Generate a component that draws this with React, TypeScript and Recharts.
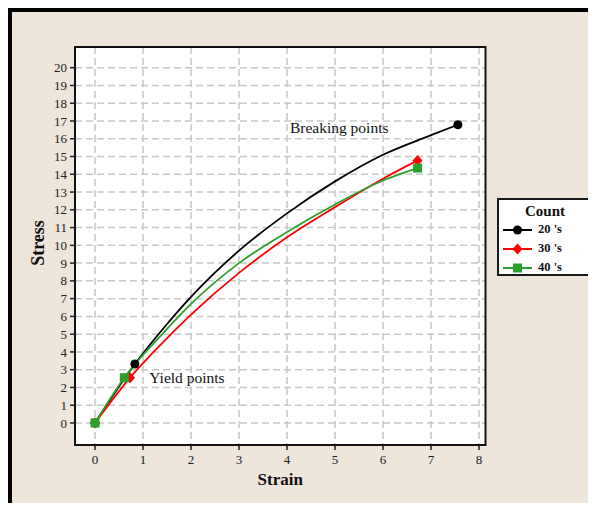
import React from 'react';
import {
  LineChart,
  Line,
  XAxis,
  YAxis,
  CartesianGrid,
  ReferenceArea,
  ReferenceDot,
  Legend,
  Label,
} from 'recharts';

const FONT = '"Liberation Serif", "DejaVu Serif", serif';

// ---- data ----
const seriesNames = ["20 's", "30 's", "40 's"];
const seriesColors = ['#000000', '#ff0000', '#2ca02c'];

const strain20 = [0, 0.83, 1.4, 2, 3, 4, 5, 6, 7, 7.56];
const stress20 = [0, 3.32, 5.25, 7.1, 9.7, 11.8, 13.6, 15.1, 16.2, 16.79];
const marks20 = [0, 1, 9];

const strain30 = [0, 0.73, 1.4, 2, 3, 4, 5, 6, 6.72];
const stress30 = [0, 2.55, 4.5, 6.1, 8.45, 10.45, 12.15, 13.75, 14.78];
const marks30 = [0, 1, 8];

const strain40 = [0, 0.61, 1.4, 2, 3, 4, 5, 6, 6.72];
const stress40 = [0, 2.55, 5.0, 6.7, 9.0, 10.75, 12.3, 13.65, 14.35];
const marks40 = [0, 1, 8];

const xTicks = [0, 1, 2, 3, 4, 5, 6, 7, 8];
const yTicks = [0, 1, 2, 3, 4, 5, 6, 7, 8, 9, 10, 11, 12, 13, 14, 15, 16, 17, 18, 19, 20];
const xDomain = [-0.417, 8.135];
const yDomain = [-1.24, 21.165];

const annotations = [
  { x: 1.13, y: 2.25, text: 'Yield points' },
  { x: 4.06, y: 16.34, text: 'Breaking points' },
];

const build = (xs: number[], ys: number[], marks: number[]) =>
  xs.map((x, i) => ({ x, y: ys[i], m: marks.includes(i) }));

const data20 = build(strain20, stress20, marks20);
const data30 = build(strain30, stress30, marks30);
const data40 = build(strain40, stress40, marks40);

const Marker = ({ kind, cx, cy, color }: any) => {
  if (kind === 'circle') return <circle cx={cx} cy={cy} r={4.5} fill={color} />;
  if (kind === 'diamond')
    return (
      <polygon
        points={`${cx},${cy - 5.5} ${cx + 5},${cy} ${cx},${cy + 5.5} ${cx - 5},${cy}`}
        fill={color}
      />
    );
  return <rect x={cx - 4.5} y={cy - 4.5} width={9} height={9} fill={color} />;
};

const makeDot = (kind: string, color: string) => (props: any) => {
  const { cx, cy, payload, index } = props;
  if (!payload || !payload.m) return <g key={`d-${kind}-${index}`} />;
  return (
    <g key={`d-${kind}-${index}`}>
      <Marker kind={kind} cx={cx} cy={cy} color={color} />
    </g>
  );
};

const kinds = ['circle', 'diamond', 'square'];

const LegendBox = () => (
  <div
    style={{
      width: 96,
      height: 78,
      boxSizing: 'border-box',
      border: '2px solid #1a1a1a',
      background: '#ffffff',
      fontFamily: FONT,
      paddingTop: 3,
    }}
  >
    <div style={{ textAlign: 'center', fontSize: 15, fontWeight: 'bold', lineHeight: '17px', color: '#111' }}>
      Count
    </div>
    {seriesNames.map((name, i) => (
      <div key={name} style={{ display: 'flex', alignItems: 'center', height: 19 }}>
        <svg width={34} height={14} style={{ marginLeft: 3 }}>
          <line x1={1} y1={7} x2={30} y2={7} stroke={seriesColors[i]} strokeWidth={2} />
          <Marker kind={kinds[i]} cx={15.5} cy={7} color={seriesColors[i]} />
        </svg>
        <span style={{ fontSize: 12.5, fontWeight: 'bold', marginLeft: 2, color: '#111' }}>{name}</span>
      </div>
    ))}
  </div>
);

export default function App() {
  return (
    <div
      style={{
        width: 588,
        height: 503,
        marginBottom: -8,
        boxSizing: 'border-box',
        borderTop: '4px solid #000',
        borderLeft: '4px solid #000',
        background: '#eee5db',
        position: 'relative',
      }}
    >
      <LineChart
        width={584}
        height={499}
        margin={{ top: 35, right: 110.5, left: 0, bottom: 0 }}
        style={{ fontFamily: FONT }}
      >
        <CartesianGrid
          stroke="#c8c8c8"
          strokeWidth={1.5}
          strokeDasharray="7 4"
          fill="#ffffff"
          horizontalValues={yTicks}
          verticalValues={xTicks}
        />
        <XAxis
          dataKey="x"
          type="number"
          domain={xDomain}
          ticks={xTicks}
          interval={0}
          allowDataOverflow
          height={66}
          tickSize={5}
          tickMargin={5}
          axisLine={{ stroke: '#111', strokeWidth: 2 }}
          tickLine={{ stroke: '#222', strokeWidth: 1.5 }}
          tick={{ fill: '#222', fontSize: 13, fontFamily: FONT }}
        >
          <Label
            content={(p: any) => {
              const vb = p.viewBox || {};
              return (
                <text
                  x={vb.x + vb.width / 2}
                  y={vb.y + 40}
                  textAnchor="middle"
                  fontSize={17}
                  fontWeight="bold"
                  fill="#111"
                  fontFamily={FONT}
                >
                  Strain
                </text>
              );
            }}
          />
        </XAxis>
        <YAxis
          type="number"
          domain={yDomain}
          ticks={yTicks}
          interval={0}
          allowDataOverflow
          width={63}
          tickSize={5}
          tickMargin={3}
          axisLine={{ stroke: '#111', strokeWidth: 2 }}
          tickLine={{ stroke: '#222', strokeWidth: 1.5 }}
          tick={{ fill: '#222', fontSize: 13, fontFamily: FONT }}
        >
          <Label
            content={(p: any) => {
              const vb = p.viewBox || {};
              const cx = 25.5;
              const cy = vb.y + vb.height / 2 - 3;
              return (
                <text
                  x={cx}
                  y={cy}
                  textAnchor="middle"
                  dominantBaseline="central"
                  fontSize={18}
                  fontWeight="bold"
                  fill="#111"
                  fontFamily={FONT}
                  transform={`rotate(-90 ${cx} ${cy})`}
                >
                  Stress
                </text>
              );
            }}
          />
        </YAxis>
        <ReferenceArea
          x1={xDomain[0]}
          x2={xDomain[1]}
          y1={yDomain[0]}
          y2={yDomain[1]}
          fill="none"
          fillOpacity={0}
          stroke="#111"
          strokeWidth={2}
          ifOverflow="visible"
        />
        <Line
          data={data20}
          dataKey="y"
          type="monotone"
          stroke={seriesColors[0]}
          strokeWidth={1.8}
          dot={makeDot('circle', seriesColors[0])}
          activeDot={false}
          isAnimationActive={false}
          name={seriesNames[0]}
        />
        <Line
          data={data30}
          dataKey="y"
          type="monotone"
          stroke={seriesColors[1]}
          strokeWidth={1.8}
          dot={makeDot('diamond', seriesColors[1])}
          activeDot={false}
          isAnimationActive={false}
          name={seriesNames[1]}
        />
        <Line
          data={data40}
          dataKey="y"
          type="monotone"
          stroke={seriesColors[2]}
          strokeWidth={1.8}
          dot={makeDot('square', seriesColors[2])}
          activeDot={false}
          isAnimationActive={false}
          name={seriesNames[2]}
        />
        {annotations.map((a) => (
          <ReferenceDot
            key={a.text}
            x={a.x}
            y={a.y}
            r={0}
            fill="none"
            stroke="none"
            ifOverflow="visible"
            label={(p: any) => {
              const vb = p.viewBox || {};
              return (
                <text x={vb.x} y={vb.y} fontSize={15.5} fill="#111" fontFamily={FONT}>
                  {a.text}
                </text>
              );
            }}
          />
        ))}
        <Legend
          layout="horizontal"
          verticalAlign="middle"
          align="center"
          wrapperStyle={{ left: 485, top: 186, width: 96 }}
          content={() => <LegendBox />}
        />
      </LineChart>
    </div>
  );
}
